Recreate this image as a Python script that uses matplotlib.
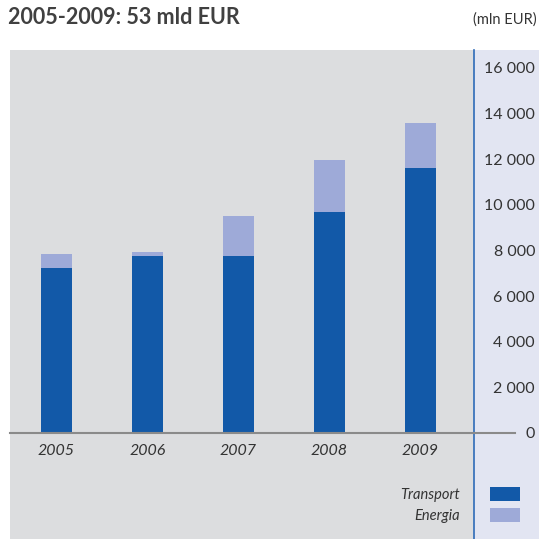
import matplotlib
matplotlib.use("Agg")
import matplotlib.pyplot as plt
from matplotlib.patches import Rectangle, Patch
import numpy as np

years = ["2005", "2006", "2007", "2008", "2009"]
transport = [7250, 7750, 7750, 9700, 11600]
energia = [600, 200, 1750, 2280, 2000]
yticks = [0, 2000, 4000, 6000, 8000, 10000, 12000, 14000, 16000]

DARK = "#1259a8"
LIGHT = "#9eaad8"
GRAY_BG = "#dcdddf"
PANEL_BG = "#e2e5f2"
LINE_BLUE = "#2e6bb8"
TEXT = "#333333"

plt.rcParams["font.family"] = ["Lato", "DejaVu Sans"]

W = H = 539
fig = plt.figure(figsize=(W / 100, H / 100), dpi=100)
fig.patch.set_facecolor("white")

# right-hand panel behind the y labels
fig.patches.append(Rectangle((474 / W, 0), 65 / W, 489 / H, transform=fig.transFigure,
                             facecolor=PANEL_BG, edgecolor="none", zorder=-1))

ax = fig.add_axes([10 / W, 0, 464 / W, 489 / H])
ax.set_facecolor(GRAY_BG)

x = np.arange(len(years))
ax.bar(x, transport, width=0.34, color=DARK, zorder=3)
ax.bar(x, energia, width=0.34, bottom=transport, color=LIGHT, zorder=3)

ax.set_xlim(-0.511, 4.588)
ax.set_ylim(-4647, 16789)

for s in ["left", "top", "bottom"]:
    ax.spines[s].set_visible(False)
ax.spines["right"].set_color(LINE_BLUE)
ax.spines["right"].set_linewidth(1.2)

ax.axhline(0, xmin=0, xmax=505 / 464, color="#8a8a8a", lw=1.5, clip_on=False, zorder=4)

ax.set_xticks([])
ax.yaxis.tick_right()
ax.set_yticks(yticks)
ax.set_yticklabels([f"{v:,}".replace(",", " ") for v in yticks])
ax.tick_params(axis="y", length=0, pad=44, labelsize=11.5, labelcolor=TEXT)
for lbl in ax.get_yticklabels():
    lbl.set_horizontalalignment("right")

for i, yr in enumerate(years):
    ax.annotate(yr, (x[i], 0), xytext=(0, -13), textcoords="offset points",
                ha="center", va="center", fontsize=11.5, style="italic", color=TEXT)

handles = [Patch(facecolor=DARK, label="Transport"), Patch(facecolor=LIGHT, label="Energia")]
fig.legend(handles=handles, loc="upper right", bbox_to_anchor=(520 / W, 1 - 487 / H),
           frameon=False, markerfirst=False, prop={"style": "italic", "size": 10.5},
           handlelength=2.05, handleheight=1.15, handletextpad=2.1, labelspacing=0.4,
           borderpad=0, borderaxespad=0, labelcolor=TEXT)

fig.text(8 / W, 1 - 18 / H, "2005-2009: 53 mld EUR", ha="left", va="center",
         fontsize=15.5, fontweight="bold", color="#404040")
fig.text(537 / W, 1 - 20 / H, "(mln EUR)", ha="right", va="center", fontsize=10.5, color=TEXT)

fig.savefig("out.png", dpi=100)
